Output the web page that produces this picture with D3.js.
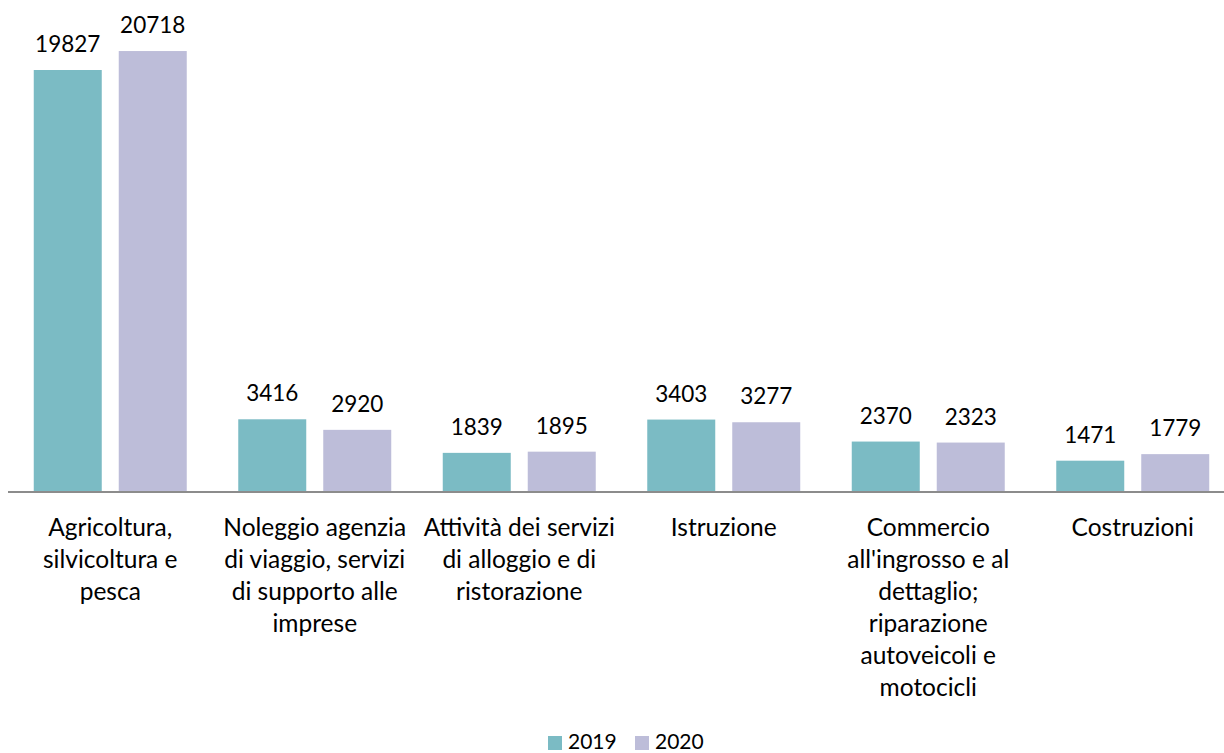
<!DOCTYPE html>
<html>
<head>
<meta charset="utf-8">
<script src="https://cdn.jsdelivr.net/npm/d3@7"></script>
<style>
  html, body { margin: 0; padding: 0; background: #fff; overflow: hidden; }
  svg { display: block; font-family: Lato, "Open Sans", sans-serif; }
</style>
</head>
<body>
<svg id="chart" width="1224" height="753"></svg>
<script>
const categories = [
  "Agricoltura, silvicoltura e pesca",
  "Noleggio agenzia di viaggio, servizi di supporto alle imprese",
  "Attività dei servizi di alloggio e di ristorazione",
  "Istruzione",
  "Commercio all'ingrosso e al dettaglio; riparazione autoveicoli e motocicli",
  "Costruzioni"
];
const categoryLines = [
  ["Agricoltura,", "silvicoltura e", "pesca"],
  ["Noleggio agenzia", "di viaggio, servizi", "di supporto alle", "imprese"],
  ["Attività dei servizi", "di alloggio e di", "ristorazione"],
  ["Istruzione"],
  ["Commercio", "all'ingrosso e al", "dettaglio;", "riparazione", "autoveicoli e", "motocicli"],
  ["Costruzioni"]
];
const seriesNames = ["2019", "2020"];
const values2019 = [19827, 3416, 1839, 3403, 2370, 1471];
const values2020 = [20718, 2920, 1895, 3277, 2323, 1779];
const seriesColors = ["#7BBBC4", "#BDBDD9"];

const seriesValues = [values2019, values2020];
const rows = categories.map((c, i) => ({
  cat: c, i,
  vals: seriesNames.map((s, j) => ({ series: s, j, value: seriesValues[j][i] }))
}));

const svg = d3.select("#chart");
const baseY = 492;
const pxPerUnit = 422 / 19827;
const yMax = 22000;

const x0 = d3.scaleBand().domain(categories).range([8, 1235]).padding(0);
const x1 = d3.scaleBand().domain(seriesNames).range([0, x0.bandwidth()])
  .paddingInner(0.2).paddingOuter(0.303);
const y = d3.scaleLinear().domain([0, yMax]).range([baseY, baseY - yMax * pxPerUnit]);
const color = d3.scaleOrdinal().domain(seriesNames).range(seriesColors);

const groups = svg.append("g").selectAll("g")
  .data(rows).join("g")
  .attr("transform", d => `translate(${x0(d.cat)},0)`);

groups.selectAll("rect")
  .data(d => d.vals).join("rect")
  .attr("x", d => x1(d.series))
  .attr("width", x1.bandwidth())
  .attr("y", d => y(d.value))
  .attr("height", d => y(0) - y(d.value))
  .attr("fill", d => color(d.series));

groups.selectAll("text.val")
  .data(d => d.vals).join("text")
  .attr("class", "val")
  .attr("x", d => x1(d.series) + x1.bandwidth() / 2)
  .attr("y", d => y(d.value) - 18)
  .attr("text-anchor", "middle")
  .attr("font-size", "22.5px")
  .attr("fill", "#000")
  .text(d => d.value);

// axis line
svg.append("line")
  .attr("x1", 8).attr("x2", 1235)
  .attr("y1", baseY).attr("y2", baseY)
  .attr("stroke", "#8C8C8C").attr("stroke-width", 2);

// category labels
const xAxis = svg.append("g");
rows.forEach(r => {
  const t = xAxis.append("text")
    .attr("x", x0(r.cat) + x0.bandwidth() / 2)
    .attr("y", 536)
    .attr("text-anchor", "middle")
    .attr("font-size", "24.5px")
    .attr("fill", "#000");
  categoryLines[r.i].forEach((ln, k) => {
    t.append("tspan")
      .attr("x", x0(r.cat) + x0.bandwidth() / 2)
      .attr("dy", k === 0 ? 0 : 32)
      .text(ln);
  });
});

// legend
const legend = svg.append("g");
const legendPos = [548, 635];
seriesNames.forEach((s, j) => {
  legend.append("rect")
    .attr("x", legendPos[j]).attr("y", 736)
    .attr("width", 14).attr("height", 14)
    .attr("fill", color(s));
  legend.append("text")
    .attr("x", legendPos[j] + 20).attr("y", 749)
    .attr("font-size", "21px")
    .attr("fill", "#000")
    .text(s);
});
</script>
</body>
</html>
